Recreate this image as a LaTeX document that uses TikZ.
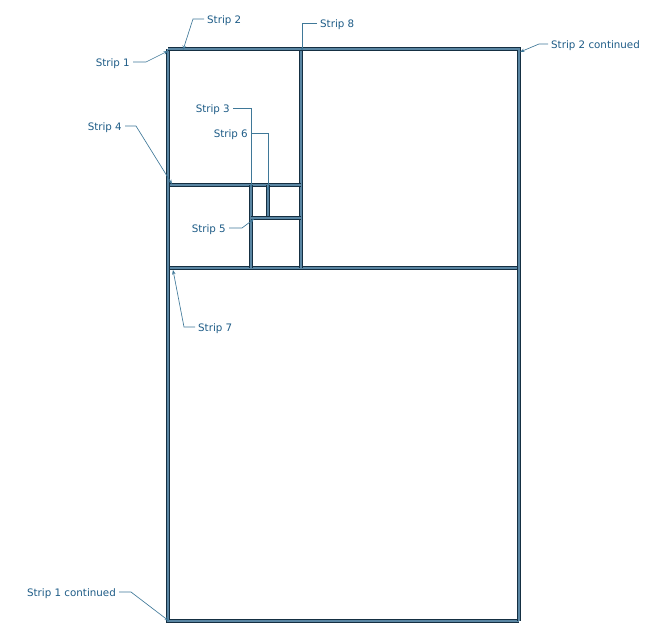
\documentclass[tikz,border=0pt]{standalone}
\usepackage{fontspec}
\setmainfont{DejaVu Sans}
\usetikzlibrary{arrows.meta}

\definecolor{stripdark}{HTML}{152F42}
\definecolor{striplight}{HTML}{5A86A3}
\definecolor{leadercol}{HTML}{3F7898}
\definecolor{labelcol}{HTML}{1D5B86}

\tikzset{
  strip/.style={draw=stripdark, line width=1.35pt, double=striplight, double distance=1.1pt},
  lbl/.style={text=labelcol, font=\fontsize{10.3}{12}\selectfont, inner sep=3pt},
  leadarrow/.style={draw=leadercol, line width=0.65pt, -{Stealth[length=4.5pt,width=3.5pt]}},
  leaddot/.style={draw=leadercol, line width=0.65pt, -{Circle[length=2.4pt]}},
}

\begin{document}
\begin{tikzpicture}[x=1pt,y=-1pt]
  \useasboundingbox (0,0) rectangle (653,640);

  % colturile foii
  \coordinate (TL) at (168,49);
  \coordinate (TR) at (519,49);
  \coordinate (BL) at (168,621);
  \coordinate (BR) at (519,621);

  % benzile interioare
  \draw[strip] (170,268) -- (519,268);
  \draw[strip] (301,49) -- (301,268);
  \draw[strip] (170,185) -- (301,185);
  \draw[strip] (251,185) -- (251,268);
  \draw[strip] (268,185) -- (268,218);
  \draw[strip] (251,218) -- (301,218);
  % benzile exterioare
  \draw[strip] (TL) -- (BL) -- (BR);
  \draw[strip] (TL) -- (TR) -- (BR);

  % capetele liniilor de indicatie
  \coordinate (t1) at (168,51);
  \coordinate (t2) at (183,50);
  \coordinate (t3) at (251,187);
  \coordinate (t4) at (172,184);
  \coordinate (t5) at (254,219);
  \coordinate (t6) at (268,190);
  \coordinate (t7) at (173,270);
  \coordinate (t8) at (302,50);
  \coordinate (t1c) at (169,621);
  \coordinate (t2c) at (520,52);

  % etichetele
  \node[lbl, anchor=east] (s1) at (133,64) {Strip 1};
  \node[lbl, anchor=west] (s2) at (204,21) {Strip 2};
  \node[lbl, anchor=east] (s3) at (233,110) {Strip 3};
  \node[lbl, anchor=east] (s4) at (125,128) {Strip 4};
  \node[lbl, anchor=east] (s5) at (229,230) {Strip 5};
  \node[lbl, anchor=east] (s6) at (251,135) {Strip 6};
  \node[lbl, anchor=west] (s7) at (195,329) {Strip 7};
  \node[lbl, anchor=west] (s8) at (317,25) {Strip 8};
  \node[lbl, anchor=east] (s1c) at (119,594) {Strip 1 continued};
  \node[lbl, anchor=west] (s2c) at (548,46) {Strip 2 continued};

  % liniile de indicatie
  \draw[leadarrow] ([yshift=2pt]s1.east) -- ++(13,0) -- (t1);
  \draw[leadarrow] ([yshift=2pt]s2.west) -- ++(-11,0) -- (t2);
  \draw[leaddot] ([yshift=2pt]s3.east) -| (t3);
  \draw[leadarrow] ([yshift=2pt]s4.east) -- ++(11,0) -- (t4);
  \draw[leadarrow] ([yshift=2pt]s5.east) -- ++(13,0) -- (t5);
  \draw[leaddot] ([yshift=2pt]s6.east) -| (t6);
  \draw[leadarrow] ([yshift=2pt]s7.west) -- ++(-11,0) -- (t7);
  \draw[leaddot] ([yshift=2pt]s8.west) -| (t8);
  \draw[leadarrow] ([yshift=2pt]s1c.east) -- ++(12,0) -- (t1c);
  \draw[leadarrow] ([yshift=2pt]s2c.west) -- ++(-9,0) -- (t2c);
\end{tikzpicture}
\end{document}
